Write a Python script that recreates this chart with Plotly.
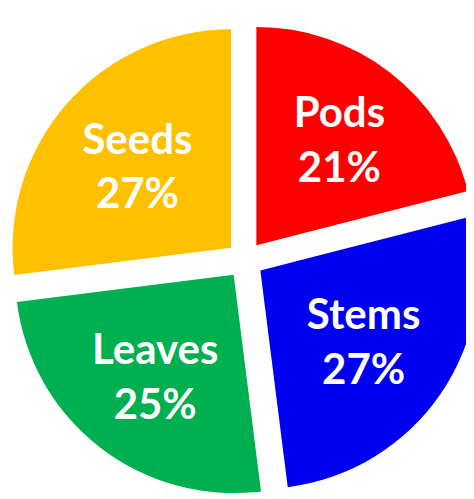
import plotly.graph_objects as go

labels = ["Pods", "Stems", "Leaves", "Seeds"]
values = [21, 27, 25, 27]
colors = ["#FF0000", "#0000F0", "#00B050", "#FFC000"]

fig = go.Figure(go.Pie(
    labels=labels,
    values=values,
    sort=False,
    direction="clockwise",
    rotation=0,
    pull=[0.085] * len(values),
    marker=dict(colors=colors, line=dict(width=0)),
    texttemplate="%{label}<br>%{value}%",
    textposition="inside",
    insidetextorientation="horizontal",
    textfont=dict(family="Lato", size=42, color="white", weight="bold"),
    hoverinfo="skip",
    domain=dict(x=[0, 1], y=[0.005, 0.985]),
))

fig.update_layout(
    width=474, height=499,
    margin=dict(l=0, r=0, t=0, b=0),
    paper_bgcolor="white",
    showlegend=False,
    uniformtext=dict(minsize=42, mode="show"),
)

fig.write_html("out.html")
